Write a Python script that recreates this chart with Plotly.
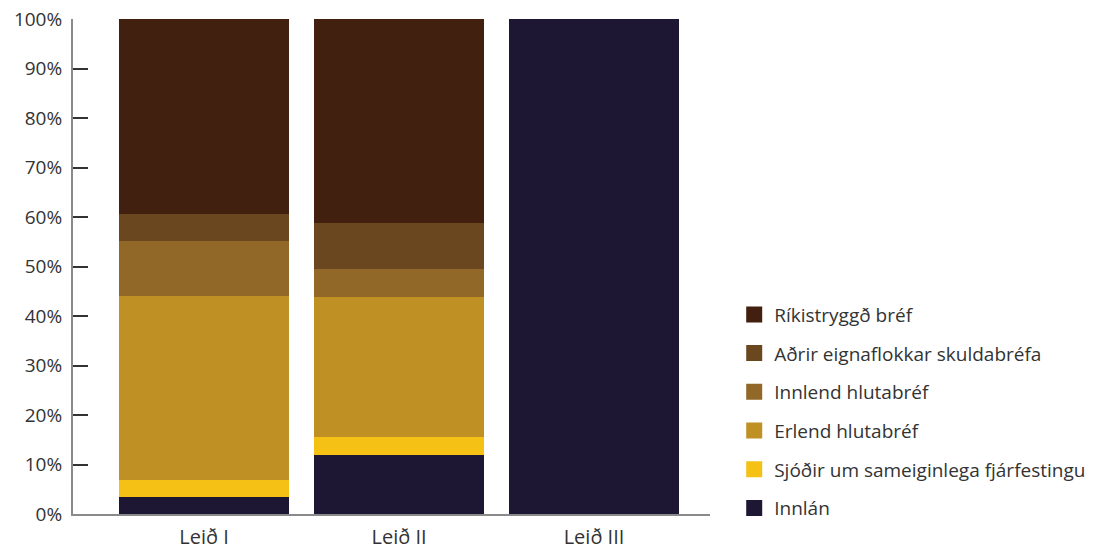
import plotly.graph_objects as go

categories = ["Leið I", "Leið II", "Leið III"]
series_names = ["Innlán", "Sjóðir um sameiginlega fjárfestingu", "Erlend hlutabréf",
                "Innlend hlutabréf", "Aðrir eignaflokkar skuldabréfa", "Ríkistryggð bréf"]
innlan = [3.4, 11.9, 100.0]
sjodir = [3.5, 3.7, 0.0]
erlend = [37.2, 28.2, 0.0]
innlend = [11.1, 5.7, 0.0]
adrir = [5.5, 9.3, 0.0]
rikis = [39.3, 41.2, 0.0]
colors = ["#1D1734", "#F5C114", "#BF9024", "#916827", "#6B4720", "#42200F"]
y_ticks = [0, 10, 20, 30, 40, 50, 60, 70, 80, 90, 100]
y_tick_labels = [f"{v}%" for v in y_ticks]

values = [innlan, sjodir, erlend, innlend, adrir, rikis]
font = "'Open Sans', Lato, sans-serif"

fig = go.Figure()
for name, vals, col in zip(series_names, values, colors):
    fig.add_trace(go.Bar(x=categories, y=vals, name=name, marker=dict(color=col, line=dict(width=0)),
                         width=0.872, showlegend=False))
# legend entries, top to bottom
for i in range(len(series_names) - 1, -1, -1):
    fig.add_trace(go.Scatter(x=[None], y=[None], mode="markers", name=series_names[i],
                             legendgroup=f"g{5 - i}",
                             marker=dict(symbol="square", size=16, color=colors[i]), showlegend=True))

fig.update_layout(
    barmode="stack",
    width=1106, height=549,
    margin=dict(l=73, r=396, t=19, b=35, autoexpand=False),
    plot_bgcolor="white", paper_bgcolor="white",
    font=dict(family=font, size=19, color="#333333"),
    legend=dict(x=1.038, xanchor="left", y=0.207, yanchor="middle",
                traceorder="grouped", tracegroupgap=11,
                font=dict(size=19, color="#333333"), bgcolor="rgba(0,0,0,0)"),
    xaxis=dict(range=[-0.672, 2.595], showline=True, linecolor="#8a8a8a", linewidth=2,
               ticks="", showgrid=False, zeroline=False, tickfont=dict(size=20), automargin=False,
               ticklabelstandoff=4),
    yaxis=dict(range=[0, 100], tickmode="array", tickvals=y_ticks, ticktext=y_tick_labels,
               showline=True, linecolor="#8a8a8a", linewidth=2, ticks="inside", ticklen=15,
               tickcolor="#333333", tickwidth=1.5, showgrid=False, zeroline=False,
               tickfont=dict(size=19), automargin=False, ticklabelstandoff=5),
)
fig.write_html("out.html", config={"displayModeBar": False},
               post_script="document.body.style.margin='0';")
